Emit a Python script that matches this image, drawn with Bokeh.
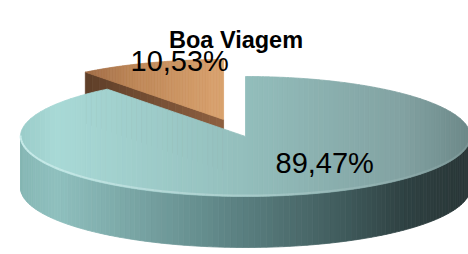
import numpy as np
from bokeh.plotting import figure
from bokeh.models import Range1d, ColumnDataSource
from bokeh.core.properties import value
from bokeh.embed import file_html
from bokeh.resources import INLINE

# ---- data ----
title_text = "Boa Viagem"
slice_values = [89.47, 10.53]
slice_exploded = [False, True]
label_texts = [f"{v:.2f}".replace(".", ",") + "%" for v in slice_values]

# ---- layout (reference pixel coordinates) ----
W, H = 468, 254
CX, CY, RX, RY, DEPTH = 245.0, 136.0, 225.0, 60.0, 51.0
EXPLODE = 0.30
label_pos = [(275, 162), (130, 60)]
title_pos = (235.5, 39)


def hex2rgb(h):
    h = h.lstrip("#")
    return np.array([int(h[i:i + 2], 16) for i in (0, 2, 4)], dtype=float)


def ramp(stops, t):
    t = min(max(t, 0.0), 1.0)
    for (t0, c0), (t1, c1) in zip(stops[:-1], stops[1:]):
        if t <= t1:
            f = 0 if t1 == t0 else (t - t0) / (t1 - t0)
            c = hex2rgb(c0) * (1 - f) + hex2rgb(c1) * f
            return "#%02x%02x%02x" % tuple(int(round(v)) for v in c)
    return stops[-1][1]


def clip_strip(poly, x0, x1):
    def half(pts, inside, xc):
        out = []
        for i in range(len(pts)):
            cur, prev = pts[i], pts[i - 1]
            def inter(p, q):
                t = (xc - p[0]) / (q[0] - p[0])
                return (xc, p[1] + t * (q[1] - p[1]))
            if inside(cur):
                if not inside(prev):
                    out.append(inter(prev, cur))
                out.append(cur)
            elif inside(prev):
                out.append(inter(prev, cur))
        return out
    pts = half(poly, lambda p: p[0] >= x0, x0)
    if len(pts) < 3:
        return []
    pts = half(pts, lambda p: p[0] <= x1, x1)
    return pts if len(pts) >= 3 else []


def pt(cx, cy, th):
    r = np.radians(th)
    return (cx + RX * np.sin(r), cy - RY * np.cos(r))


# angles clockwise from 12 o'clock
fracs = np.array(slice_values) / sum(slice_values)
ends = np.cumsum(fracs) * 360.0
starts = np.concatenate([[0.0], ends[:-1]])

top_stops = [
    [(0.0, "#9accc9"), (0.08, "#a8d9d6"), (0.5, "#93bebc"), (0.85, "#82a2a2"), (1.0, "#6c8888")],
    [(0.0, "#a06c46"), (0.35, "#bd8657"), (1.0, "#d9a26e")],
]
side_stops = [
    [(0.0, "#86b7b5"), (0.08, "#8fc0be"), (0.45, "#5f8687"), (0.7, "#425e5f"), (0.85, "#2f4243"), (1.0, "#293536")],
    [(0.0, "#5e3e28"), (1.0, "#8e6040")],
]

p = figure(width=W, height=H, output_backend="svg", toolbar_location=None,
           x_range=Range1d(0, W), y_range=Range1d(H, 0),
           min_border=0, outline_line_color=None)
p.axis.visible = False
p.grid.visible = False
p.background_fill_color = "white"
p.border_fill_color = "white"

order = [1, 0]  # exploded slice behind
for i in order:
    a0, a1 = starts[i], ends[i]
    cx, cy = CX, CY
    if slice_exploded[i]:
        am = np.radians((a0 + a1) / 2)
        cx += EXPLODE * RX * np.sin(am)
        cy -= EXPLODE * RY * np.cos(am)

    sx, sy, sc = [], [], []
    lo, hi = max(a0, 90.0), min(a1, 270.0)
    if hi > lo:
        ths = np.linspace(lo, hi, 120)
        for t0, t1 in zip(ths[:-1], ths[1:]):
            (x0, y0), (x1, y1) = pt(cx, cy, t0), pt(cx, cy, t1)
            sx.append([x0, x1, x1, x0]); sy.append([y0, y1, y1 + DEPTH, y0 + DEPTH])
            sc.append(ramp(side_stops[i], ((x0 + x1) / 2 - (CX - RX)) / (2 * RX)))
    if slice_exploded[i]:
        ex, ey = pt(cx, cy, a0)
        n = 20
        for k in range(n):
            f0, f1 = k / n, (k + 1) / n
            xa, ya = ex + (cx - ex) * f0, ey + (cy - ey) * f0
            xb, yb = ex + (cx - ex) * f1, ey + (cy - ey) * f1
            sx.append([xa, xb, xb, xa]); sy.append([ya, yb, yb + DEPTH, ya + DEPTH])
            sc.append(ramp(side_stops[i], (k + 0.5) / n))
    if sx:
        src = ColumnDataSource(dict(xs=sx, ys=sy, c=sc))
        p.patches("xs", "ys", source=src, fill_color="c", line_color="c", line_width=0.8)

    ths = np.linspace(a0, a1, 400)
    poly = [(cx, cy)] + [pt(cx, cy, t) for t in ths]
    xs_all = [q[0] for q in poly]
    xmin, xmax = min(xs_all), max(xs_all)
    cols = np.linspace(xmin, xmax, 90)
    tx, ty, tc = [], [], []
    for x0, x1 in zip(cols[:-1], cols[1:]):
        piece = clip_strip(poly, x0, x1)
        if not piece:
            continue
        tx.append([q[0] for q in piece]); ty.append([q[1] for q in piece])
        if slice_exploded[i]:
            t = ((x0 + x1) / 2 - xmin) / (xmax - xmin)
        else:
            t = ((x0 + x1) / 2 - (CX - RX)) / (2 * RX)
        tc.append(ramp(top_stops[i], t))
    src = ColumnDataSource(dict(xs=tx, ys=ty, c=tc))
    p.patches("xs", "ys", source=src, fill_color="c", line_color="c", line_width=0.8)

    if hi > lo and not slice_exploded[i]:
        ths = np.linspace(lo, hi, 80)
        hx, hy, hc, ha = [], [], [], []
        for t0, t1 in zip(ths[:-1], ths[1:]):
            (x0, y0), (x1, y1) = pt(cx, cy, t0), pt(cx, cy, t1)
            hx.append([x0, x1]); hy.append([y0 - 1, y1 - 1])
            tt = ((x0 + x1) / 2 - (CX - RX)) / (2 * RX)
            hc.append(ramp([(0, "#cdeeed"), (0.5, "#b4d4d3"), (1, "#8fa9a9")], tt))
            ha.append(0.9 - 0.5 * tt)
        src = ColumnDataSource(dict(xs=hx, ys=hy, c=hc, a=ha))
        p.multi_line("xs", "ys", source=src, line_color="c", line_alpha="a", line_width=2)

lsrc = ColumnDataSource(dict(x=[q[0] for q in label_pos], y=[q[1] for q in label_pos], t=label_texts))
p.text("x", "y", text="t", source=lsrc, text_font=value("Liberation Sans"),
       text_font_size="29px", text_color="black", text_baseline="alphabetic", text_align="left")
p.text([title_pos[0]], [title_pos[1]], text=[title_text], text_font=value("Liberation Sans"),
       text_font_size="23.5px", text_font_style="bold", text_color="black",
       text_baseline="alphabetic", text_align="center")

open("out.html", "w").write(file_html(p, INLINE))
